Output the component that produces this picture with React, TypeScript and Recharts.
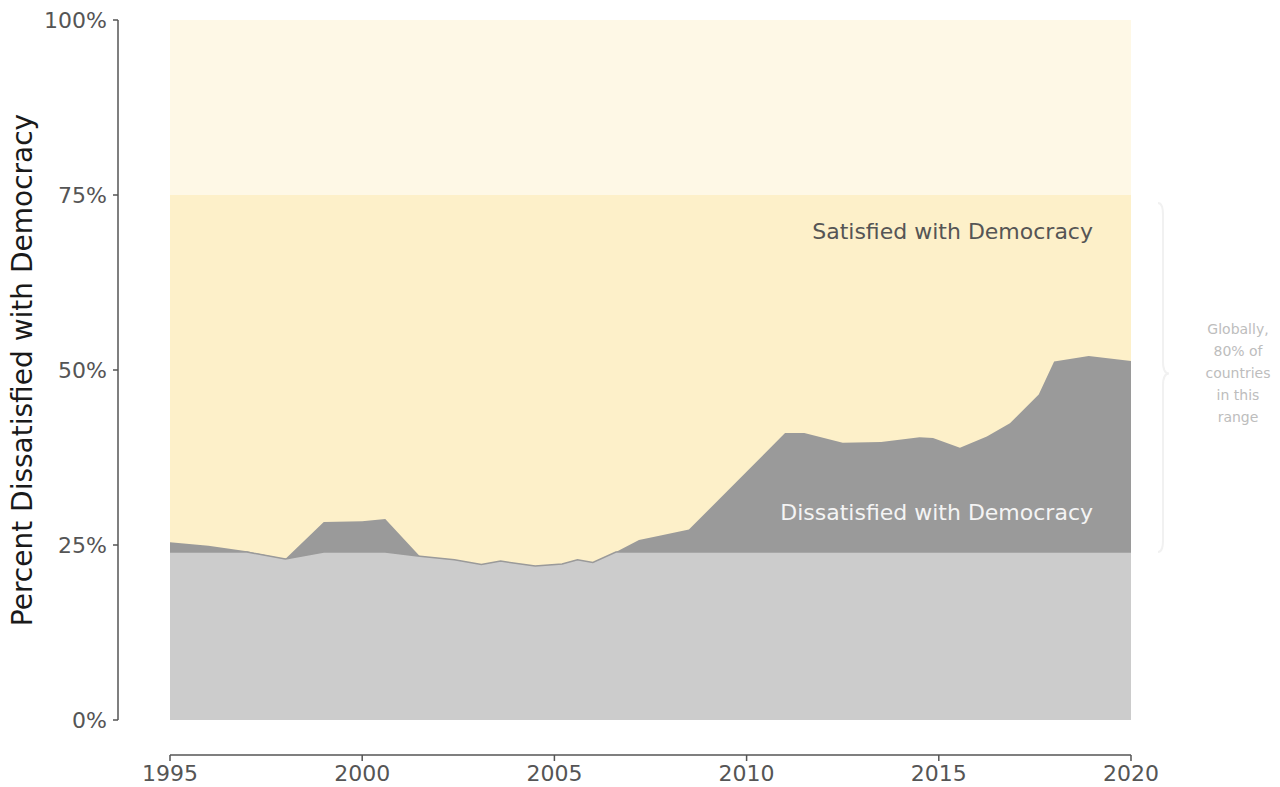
import { AreaChart, Area, XAxis, YAxis, ReferenceArea, Label } from "recharts";

// survey years (waves fall between calendar years) and % dissatisfied
const years = [
  1995, 1996, 1997, 1998, 1999, 2000, 2000.6, 2001.5, 2002.4, 2003.1, 2003.6,
  2004.5, 2005.2, 2005.6, 2006, 2006.6, 2007.2, 2007.7, 2008.5, 2011, 2011.5,
  2012.5, 2013.5, 2014.5, 2014.85, 2015.55, 2016.25, 2016.85, 2017.6, 2018,
  2018.9, 2020,
];
const dissatisfied = [
  25.4, 24.9, 24.1, 23.0, 28.3, 28.4, 28.7, 23.4, 22.9, 22.2, 22.7,
  22.0, 22.3, 22.9, 22.5, 24.0, 25.7, 26.3, 27.2, 41.0, 41.0,
  39.6, 39.7, 40.4, 40.3, 38.9, 40.5, 42.4, 46.5, 51.2,
  52.0, 51.3,
];

const xTicks = [1995, 2000, 2005, 2010, 2015, 2020];
const yTicks = [0, 25, 50, 75, 100];

// global range where 80% of countries sit
const rangeLow = 24;
const rangeHigh = 75;

const noteLines = ["Globally,", "80% of", "countries", "in this", "range"];

const data = years.map((year, i) => ({
  year,
  dissatisfied: dissatisfied[i],
  belowRange: Math.min(dissatisfied[i], rangeLow),
}));

const tickFont = { fill: "#555", fontSize: 22, fontFamily: "DejaVu Sans" };

const RangeNotes = ({ viewBox }: any) => {
  if (!viewBox) return null;
  const { x, y, width, height } = viewBox;
  const right = x + width;
  const mid = y + height / 2;
  const bx = right + 32;
  return (
    <g>
      <text
        x={right - 38}
        y={y + 44}
        textAnchor="end"
        fill="#555"
        fontSize={22}
        fontFamily="DejaVu Sans"
      >
        Satisfied with Democracy
      </text>
      <text
        x={right - 38}
        y={y + height - 32}
        textAnchor="end"
        fill="#f4f4f4"
        fontSize={22}
        fontFamily="DejaVu Sans"
      >
        Dissatisfied with Democracy
      </text>
      <path
        d={`M ${bx - 5} ${y + 8} Q ${bx} ${y + 8} ${bx} ${y + 20} L ${bx} ${mid - 12} Q ${bx} ${mid} ${bx + 6} ${mid} Q ${bx} ${mid} ${bx} ${mid + 12} L ${bx} ${y + height - 12} Q ${bx} ${y + height} ${bx - 5} ${y + height}`}
        fill="none"
        stroke="#f1f1f1"
        strokeWidth={2}
      />
      {noteLines.map((line, i) => (
        <text
          key={line}
          x={1238}
          y={mid + (i - 2) * 22 + 4}
          textAnchor="middle"
          fill="#bdbdbd"
          fontSize={14}
          fontFamily="DejaVu Sans"
        >
          {line}
        </text>
      ))}
    </g>
  );
};

const YTitle = ({ viewBox }: any) => {
  if (!viewBox) return null;
  const cx = viewBox.x + 22;
  const cy = viewBox.y + (viewBox.height - 35) / 2;
  return (
    <text
      x={cx}
      y={cy}
      transform={`rotate(-90 ${cx} ${cy})`}
      textAnchor="middle"
      dominantBaseline="central"
      fill="#1a1a1a"
      fontSize={28}
      fontFamily="DejaVu Sans"
    >
      Percent Dissatisfied with Democracy
    </text>
  );
};

export default function App() {
  return (
    <div style={{ position: "absolute", left: 0, top: 0, width: 1280, height: 787, background: "#fff" }}>
      <AreaChart
        width={1280}
        height={787}
        data={data}
        margin={{ top: 20, right: 149, bottom: 2, left: 0 }}
      >
        <XAxis
          dataKey="year"
          type="number"
          domain={[1995, 2020]}
          ticks={xTicks}
          interval={0}
          padding={{ left: 52, right: 0 }}
          height={30}
          tickSize={6}
          tickMargin={4}
          tick={tickFont}
          tickLine={{ stroke: "#555", strokeWidth: 1.5 }}
          axisLine={{ stroke: "#555", strokeWidth: 1.5, strokeDasharray: "0 52 1000 0" }}
        />
        <YAxis
          type="number"
          domain={[0, 100]}
          ticks={yTicks}
          interval={0}
          padding={{ top: 0, bottom: 35 }}
          width={118}
          tickSize={5}
          tickMargin={6}
          tick={tickFont}
          tickFormatter={(v: number) => `${v}%`}
          tickLine={{ stroke: "#555", strokeWidth: 1.5 }}
          axisLine={{ stroke: "#555", strokeWidth: 1.5, strokeDasharray: "700 100" }}
        >
          <Label content={<YTitle />} />
        </YAxis>
        <ReferenceArea x1={1995} x2={2020} y1={rangeHigh} y2={100} fill="#fef8e6" fillOpacity={1} stroke="none" />
        <ReferenceArea x1={1995} x2={2020} y1={0} y2={rangeHigh} fill="#fdf0c9" fillOpacity={1} stroke="none" />
        <Area
          type="linear"
          dataKey="dissatisfied"
          fill="#9a9a9a"
          fillOpacity={1}
          stroke="none"
          isAnimationActive={false}
          dot={false}
          activeDot={false}
        />
        <Area
          type="linear"
          dataKey="belowRange"
          fill="#cccccc"
          fillOpacity={1}
          stroke="#9a9a9a"
          strokeWidth={1.5}
          isAnimationActive={false}
          dot={false}
          activeDot={false}
        />
        <ReferenceArea
          x1={1995}
          x2={2020}
          y1={rangeLow}
          y2={rangeHigh}
          fillOpacity={0}
          stroke="none"
          ifOverflow="visible"
          label={<RangeNotes />}
        />
      </AreaChart>
    </div>
  );
}
